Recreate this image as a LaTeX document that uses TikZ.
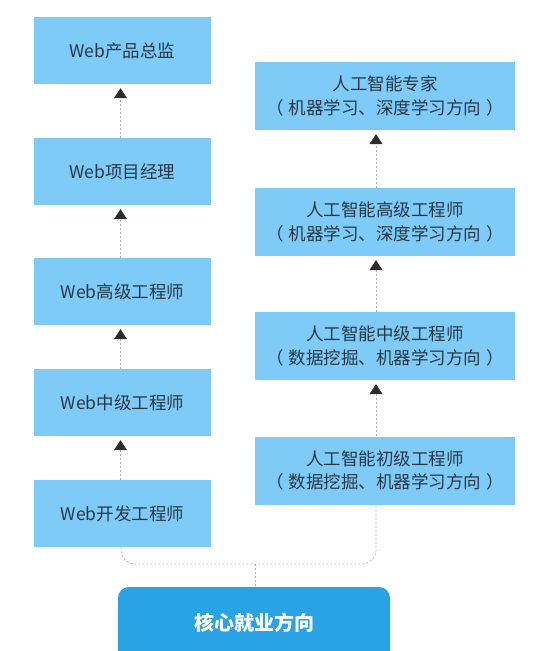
\documentclass[tikz,border=0pt]{standalone}
\usepackage{fontspec}
\setmainfont{Noto Sans CJK SC}
\usetikzlibrary{arrows.meta,positioning,calc}
\definecolor{boxblue}{RGB}{125,203,246}
\definecolor{coreblue}{RGB}{41,163,228}
\definecolor{txt}{RGB}{40,56,70}
\definecolor{lineg}{RGB}{175,175,175}
\definecolor{tipc}{RGB}{45,45,45}
\newcommand{\psp}{\hspace{5pt}}
\tikzset{
  lbox/.style={fill=boxblue, draw=none, minimum width=177pt, minimum height=67pt, inner sep=0pt, text=txt, font=\fontsize{17.5pt}{23pt}\selectfont},
  rbox/.style={fill=boxblue, draw=none, minimum width=260pt, minimum height=68pt, inner sep=0pt, text=txt, align=center, font=\fontsize{17.5pt}{23.5pt}\selectfont},
  corebox/.style={fill=coreblue, draw=none, rounded corners=11pt, minimum width=272pt, minimum height=76pt, inner sep=0pt, text=white, font=\fontsize{20pt}{24pt}\selectfont\bfseries},
  conn/.style={draw=lineg, line width=0.7pt, dash pattern=on 2pt off 2pt},
  upconn/.style={conn, -{Triangle[width=13pt,length=10pt,fill=tipc,color=tipc]}, shorten >=4pt},
}
\begin{document}
\begin{tikzpicture}[x=1pt,y=-1pt]
\useasboundingbox (0,0) rectangle (540,651);
\clip (0,0) rectangle (540,651);
% left column
\node[lbox] (w1) at (122.5,50.5) {Web产品总监};
\node[lbox] (w2) at (122.5,171.5) {Web项目经理};
\node[lbox] (w3) at (122.5,291.5) {Web高级工程师};
\node[lbox] (w4) at (122.5,402.5) {Web中级工程师};
\node[lbox] (w5) at (122.5,513.5) {Web开发工程师};
% right column
\node[rbox] (a1) at (385,96) {人工智能专家\\（\psp 机器学习、深度学习方向\psp ）};
\node[rbox] (a2) at (385,222) {人工智能高级工程师\\（\psp 机器学习、深度学习方向\psp ）};
\node[rbox] (a3) at (385,346) {人工智能中级工程师\\（\psp 数据挖掘、机器学习方向\psp ）};
\node[rbox] (a4) at (385,470.5) {人工智能初级工程师\\（\psp 数据挖掘、机器学习方向\psp ）};
% core
\node[corebox] (core) at (254,625) {\raisebox{6pt}{核心就业方向}};
% left arrows
\draw[upconn] ([xshift=-2pt]w2.north) -- ([xshift=-2pt]w1.south);
\draw[upconn] ([xshift=-2pt]w3.north) -- ([xshift=-2pt]w2.south);
\draw[upconn] ([xshift=-2pt]w4.north) -- ([xshift=-2pt]w3.south);
\draw[upconn] ([xshift=-2pt]w5.north) -- ([xshift=-2pt]w4.south);
% right arrows
\draw[upconn] ([xshift=-9pt]a2.north) -- ([xshift=-9pt]a1.south);
\draw[upconn] ([xshift=-9pt]a3.north) -- ([xshift=-9pt]a2.south);
\draw[upconn] ([xshift=-9pt]a4.north) -- ([xshift=-9pt]a3.south);
% bottom connector
\coordinate (j) at (255,564);
\draw[conn, rounded corners=14pt] ([xshift=-1.5pt]w5.south) |- (j) -| ([xshift=-9pt]a4.south);
\draw[conn] (j) -- (j |- core.north);
\end{tikzpicture}
\end{document}
